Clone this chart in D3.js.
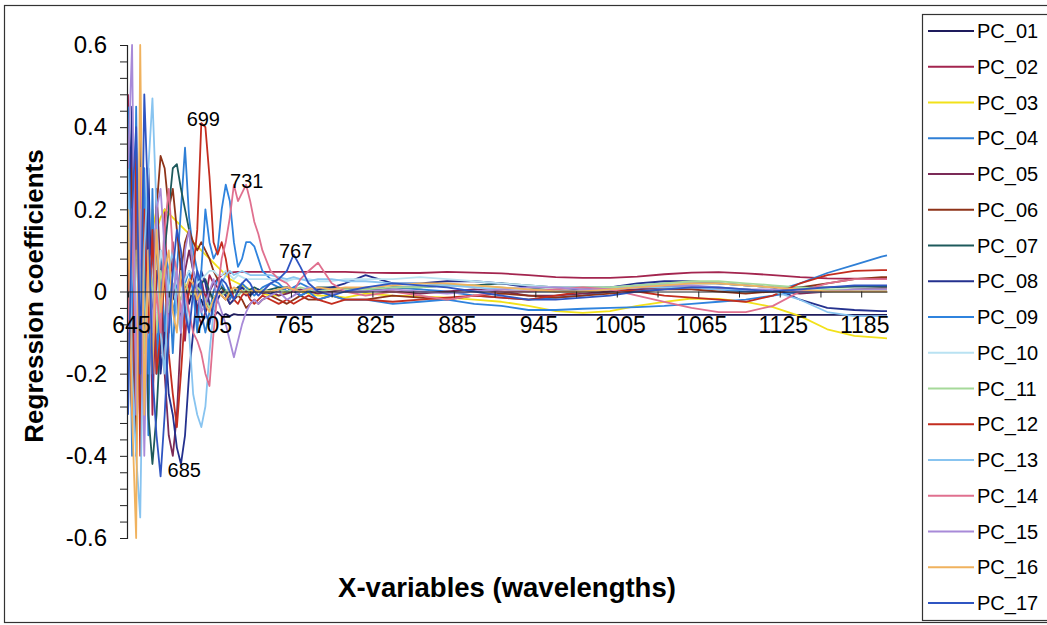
<!DOCTYPE html>
<html>
<head>
<meta charset="utf-8">
<script src="https://cdn.jsdelivr.net/npm/d3@7"></script>
<style>
  html, body { margin: 0; padding: 0; background: #fff; }
  svg { display: block; }
</style>
</head>
<body>
<svg id="chart" width="1047" height="625"></svg>
<script>
// wavelengths (nm) where the curves were read; dense in the noisy part
const wavelengths = [
  645,648,651,654,657,660,663,666,669,672,675,678,681,684,687,690,693,696,699,702,
  705,708,711,714,717,720,723,726,729,732,735,738,741,744,
  750,756,762,767,772,778,785,795,805,
  820,840,860,880,900,920,940,960,980,1000,1020,1040,1060,1080,1100,1120,1140,1160,1180,1200,1204
];

const seriesNames = ["PC_01","PC_02","PC_03","PC_04","PC_05","PC_06","PC_07","PC_08","PC_09",
  "PC_10","PC_11","PC_12","PC_13","PC_14","PC_15","PC_16","PC_17"];

const pc01 = [0.05,-0.30,0.20,-0.10,0.15,-0.25,0.10,-0.05,0.08,-0.12, 0.05,-0.02,0.04,-0.08,0.02,-0.03,0.01,-0.04,-0.02,-0.05,
  -0.03,-0.06,-0.05,-0.06,-0.055,-0.06,-0.055,-0.057,-0.057,-0.057, -0.057,-0.057,-0.057,-0.057,
  -0.057,-0.057,-0.057,-0.057,-0.057,-0.057,-0.057,-0.057,-0.057,
  -0.057,-0.057,-0.057,-0.057,-0.057,-0.057,-0.057,-0.057,-0.057,-0.057,-0.057,-0.057,-0.057,-0.057,-0.057,-0.057,-0.057,-0.057,-0.057,-0.057,-0.057];
const pc02 = [0.48,-0.20,0.30,-0.35,0.10,0.25,-0.30,0.05,-0.15,0.20, -0.10,0.12,-0.05,0.08,-0.12,0.02,0.05,-0.06,0.03,-0.02,
  0.04,0.02,0.03,0.04,0.045,0.045,0.047,0.048,0.048,0.048, 0.048,0.048,0.048,0.048,
  0.048,0.048,0.048,0.048,0.048,0.048,0.048,0.048,0.048,
  0.046,0.045,0.045,0.048,0.046,0.044,0.040,0.035,0.033,0.033,0.036,0.042,0.046,0.047,0.044,0.040,0.035,0.032,0.031,0.031,0.031];
const pc03 = [0.20,-0.30,0.25,-0.20,0.10,-0.10,0.20,0.15,0.18,0.20, 0.19,0.18,0.17,0.16,0.15,0.14,0.12,0.11,0.10,0.09,
  0.08,0.07,0.06,0.05,0.04,0.03,0.025,0.02,0.015,0.01, 0.005,0.0,0.0,-0.005,
  -0.01,-0.01,0.0,0.005,0.0,-0.005,-0.01,-0.01,-0.015,
  -0.005,-0.01,-0.012,-0.015,-0.02,-0.025,-0.035,-0.048,-0.052,-0.048,-0.035,-0.025,-0.017,-0.018,-0.025,-0.038,-0.06,-0.092,-0.108,-0.113,-0.114];
const pc04 = [0.30,-0.40,0.45,-0.30,0.20,-0.35,0.25,-0.20,0.10,-0.10, 0.05,-0.15,0.05,0.20,0.35,0.18,0.10,0.05,-0.05,-0.10,
  -0.05,0.0,0.03,0.02,0.0,-0.02,0.0,0.01,0.02,0.01, 0.0,-0.01,0.0,0.01,
  0.02,0.01,0.0,0.01,0.02,0.01,0.0,0.01,0.0,
  0.0,0.01,0.005,0.0,-0.01,-0.015,-0.02,-0.015,-0.01,0.0,0.005,0.01,0.01,0.005,0.0,0.0,0.02,0.045,0.065,0.085,0.088];
const pc05 = [-0.20,0.40,-0.35,0.20,-0.30,0.15,-0.20,0.25,0.05,-0.20, -0.35,-0.40,-0.30,-0.10,0.05,0.10,0.05,-0.05,-0.08,-0.05,
  0.0,0.02,0.01,-0.01,-0.02,-0.01,0.0,0.01,0.0,-0.01, 0.0,0.005,0.0,-0.005,
  0.0,-0.01,-0.005,0.0,0.005,0.0,-0.005,0.0,0.005,
  0.005,0.0,-0.005,0.0,0.005,0.0,-0.01,-0.01,-0.005,0.0,0.005,0.01,0.01,0.008,0.005,0.0,-0.005,0.0,0.005,0.008,0.008];
const pc06 = [-0.10,0.30,-0.40,0.35,-0.20,0.10,-0.10,0.20,0.33,0.30, 0.20,0.25,0.15,0.05,0.12,0.15,0.12,0.10,0.12,0.10,
  0.08,0.05,0.03,0.01,-0.01,-0.03,-0.02,-0.01,-0.02,-0.04, -0.03,-0.02,-0.03,-0.02,
  -0.01,-0.02,-0.03,-0.02,-0.01,-0.02,-0.02,-0.01,-0.02,
  -0.02,-0.01,-0.015,-0.02,-0.01,-0.005,-0.01,-0.015,-0.01,-0.005,0.0,0.005,0.005,0.0,-0.005,0.0,0.01,0.02,0.03,0.035,0.035];
const pc07 = [0.20,-0.25,0.30,-0.20,0.10,-0.30,-0.42,-0.30,-0.10,0.10, 0.20,0.30,0.31,0.25,0.20,0.15,0.05,-0.02,0.02,0.03,
  0.0,-0.02,0.0,0.01,0.0,-0.01,0.0,0.01,0.01,0.0, 0.005,0.01,0.005,0.0,
  0.005,0.01,0.01,0.005,0.0,0.005,0.01,0.01,0.005,
  0.005,0.01,0.01,0.015,0.015,0.02,0.015,0.01,0.01,0.01,0.015,0.02,0.02,0.02,0.015,0.01,0.01,0.01,0.012,0.012,0.012];
const pc08 = [0.10,0.45,-0.30,0.40,-0.20,0.30,-0.10,0.15,-0.20,-0.10, -0.25,-0.30,-0.38,-0.42,-0.35,-0.20,-0.10,0.0,0.05,0.02,
  -0.03,-0.05,-0.02,0.0,-0.01,-0.03,-0.02,0.0,0.01,0.0, -0.01,0.0,0.005,0.0,
  -0.005,0.0,0.01,0.0,-0.01,0.0,0.005,0.01,0.02,
  0.04,0.02,0.02,0.025,0.025,0.02,0.01,0.0,0.005,0.01,0.02,0.025,0.025,0.02,0.015,0.01,-0.02,-0.04,-0.045,-0.048,-0.048];
const pc09 = [0.45,-0.10,0.30,-0.35,0.30,-0.20,0.10,-0.20,0.0,0.10, 0.05,-0.05,0.0,0.05,0.02,0.05,0.0,-0.10,0.05,0.20,
  0.12,0.08,0.10,0.20,0.26,0.22,0.12,0.06,0.08,0.12, 0.12,0.11,0.08,0.05,
  0.03,0.02,0.0,0.01,-0.01,0.0,-0.02,-0.01,-0.02,
  -0.02,-0.03,-0.025,-0.02,-0.03,-0.035,-0.045,-0.045,-0.042,-0.04,-0.038,-0.035,-0.03,-0.025,-0.02,-0.01,0.0,0.0,0.0,0.0,0.0];
const pc10 = [-0.30,0.20,-0.10,0.30,-0.20,0.10,0.05,-0.05,0.10,0.05, 0.0,0.05,0.02,0.0,0.03,0.05,0.04,0.02,0.03,0.04,
  0.05,0.05,0.04,0.04,0.05,0.04,0.03,0.04,0.035,0.03, 0.03,0.03,0.03,0.03,
  0.03,0.03,0.025,0.03,0.03,0.03,0.025,0.025,0.03,
  0.03,0.03,0.035,0.03,0.025,0.02,0.015,0.01,0.01,0.01,0.015,0.02,0.02,0.02,0.015,0.01,0.005,0.0,0.0,0.0,0.0];
const pc11 = [0.20,-0.20,0.10,0.05,-0.15,0.10,0.0,-0.10,0.05,0.0, -0.05,0.02,0.0,-0.02,0.02,0.0,-0.01,0.01,0.0,-0.02,
  -0.04,-0.02,0.0,-0.01,0.0,0.01,0.0,-0.01,0.0,0.005, 0.0,0.005,0.0,0.005,
  0.0,0.005,0.0,0.005,0.01,0.005,0.0,0.005,0.005,
  0.005,0.01,0.01,0.015,0.015,0.01,0.005,0.005,0.01,0.01,0.015,0.02,0.025,0.025,0.02,0.015,0.01,0.005,0.005,0.005,0.005];
const pc12 = [0.10,-0.30,0.35,-0.40,0.20,-0.10,0.15,-0.20,-0.10,0.05, -0.15,-0.25,-0.33,-0.20,-0.05,0.0,0.05,0.15,0.41,0.40,
  0.28,0.12,0.09,0.12,0.08,0.02,-0.02,-0.03,-0.01,0.0, -0.02,-0.03,-0.02,-0.01,
  -0.02,-0.03,-0.02,-0.03,-0.02,-0.01,-0.02,-0.03,-0.02,
  -0.02,-0.025,-0.02,-0.015,-0.01,-0.015,-0.02,-0.01,0.0,0.005,0.0,-0.01,-0.015,-0.02,-0.025,-0.01,0.02,0.04,0.05,0.052,0.052];
const pc13 = [0.30,-0.20,-0.40,-0.55,0.10,0.30,0.47,0.20,-0.10,-0.20, 0.05,0.10,-0.05,-0.10,0.0,-0.10,-0.25,-0.30,-0.33,-0.28,
  -0.15,-0.05,0.0,0.02,0.04,0.05,0.04,0.045,0.05,0.045, 0.04,0.04,0.04,0.04,
  0.04,0.035,0.03,0.035,0.03,0.025,0.03,0.03,0.025,
  0.025,0.02,0.02,0.015,0.01,0.005,0.0,0.0,0.0,0.005,0.01,0.01,0.01,0.005,0.005,0.0,-0.02,-0.05,-0.06,-0.06,-0.06];
const pc14 = [-0.10,0.20,-0.20,0.30,-0.30,0.10,-0.15,0.0,-0.10,0.15, 0.25,0.10,0.05,-0.05,0.0,-0.05,-0.10,-0.12,-0.15,-0.20,
  -0.23,-0.10,0.0,0.08,0.12,0.18,0.26,0.22,0.24,0.26, 0.22,0.17,0.14,0.10,
  0.05,0.03,0.02,0.0,0.03,0.05,0.07,0.02,0.0,
  -0.01,0.0,-0.01,-0.02,-0.01,0.0,0.0,0.005,0.01,0.005,-0.01,-0.025,-0.04,-0.05,-0.05,-0.035,0.0,0.02,0.03,0.03,0.03];
const pc15 = [0.30,0.60,-0.30,0.20,-0.40,0.10,-0.10,0.20,0.25,0.10, -0.10,0.0,0.05,-0.10,0.10,0.15,0.05,0.0,-0.05,-0.03,
  0.0,0.03,-0.02,-0.05,-0.08,-0.12,-0.16,-0.12,-0.08,-0.05, -0.03,-0.02,-0.03,-0.02,
  -0.01,0.0,-0.02,-0.01,0.0,0.01,0.0,-0.005,0.0,
  0.0,0.005,0.0,-0.005,0.0,0.005,0.01,0.01,0.005,0.005,0.01,0.015,0.015,0.01,0.005,0.005,0.0,0.0,0.005,0.005,0.005];
const pc16 = [0.20,-0.30,-0.60,0.60,-0.30,0.10,-0.20,0.15,-0.05,0.05, 0.10,-0.05,-0.10,0.05,0.0,0.03,0.02,-0.02,0.0,-0.03,
  -0.05,-0.02,0.0,-0.01,-0.02,0.0,0.01,0.005,0.0,-0.005, 0.0,0.005,0.0,0.0,
  0.0,0.005,0.01,0.005,0.0,0.005,0.01,0.005,0.01,
  0.01,0.015,0.02,0.02,0.015,0.01,0.005,0.0,0.0,0.005,0.01,0.015,0.02,0.02,0.015,0.01,0.005,0.0,0.0,0.0,0.0];
const pc17 = [-0.30,0.20,0.40,-0.20,0.48,0.20,-0.20,-0.35,-0.45,-0.30, -0.10,0.05,0.15,0.10,-0.05,-0.10,0.0,0.05,0.02,-0.05,
  -0.08,-0.03,0.0,0.03,0.02,0.0,-0.02,0.0,0.02,0.03, 0.02,0.0,-0.01,0.0,
  0.02,0.03,0.05,0.09,0.06,0.02,0.0,-0.01,0.0,
  0.01,0.02,0.015,0.01,0.0,-0.01,-0.02,-0.02,-0.015,-0.01,0.0,0.005,0.01,0.01,0.005,0.0,0.005,0.01,0.015,0.015,0.015];

const seriesValues = [pc01,pc02,pc03,pc04,pc05,pc06,pc07,pc08,pc09,pc10,pc11,pc12,pc13,pc14,pc15,pc16,pc17];

const colors = ["#1e1b5c","#a3254f","#f2e11a","#2f7fd6","#7b2a57","#8e3318","#1e5a5c","#24318e","#2f83de",
  "#b9e2f2","#a6d99a","#c32d1f","#88c4f0","#e0708f","#a88ad8","#f0b25e","#2f55c2"];

// point labels written on the chart
const noteText = ["699","731","767","685"];
const noteWl = [699, 731, 767, 685];
const noteVal = [0.41, 0.26, 0.09, -0.42];

const xTicks = d3.range(645, 1186, 30);
const yTicks = d3.range(-15, 16).map(i => i * 0.04);

const font = "Arial, 'Liberation Sans', sans-serif";
const svg = d3.select("#chart");

// outer chart frame
svg.append("rect")
    .attr("x", 4.5).attr("y", 5.5)
    .attr("width", 1050).attr("height", 617)
    .attr("fill", "#fff").attr("stroke", "#333").attr("stroke-width", 1.2);

const x = d3.scaleLinear().domain([645, 1204]).range([128, 887]);
const y = d3.scaleLinear().domain([-0.6, 0.6]).range([538, 45]);

// lines
const line = d3.line()
    .x((d, i) => x(wavelengths[i]))
    .y(d => y(d));

svg.append("g")
    .attr("fill", "none")
    .attr("stroke-width", 1.8)
    .attr("stroke-linejoin", "round")
    .selectAll("path")
    .data(seriesValues)
    .join("path")
    .attr("stroke", (d, i) => colors[i])
    .attr("d", d => line(d));

// y axis
const yAxis = svg.append("g")
    .attr("transform", "translate(127,0)")
    .call(d3.axisLeft(y)
        .tickValues(yTicks)
        .tickSize(7)
        .tickPadding(13)
        .tickFormat((d, i) => (i % 5 === 0 ? (Math.abs(d) < 1e-9 ? "0" : d.toFixed(1)) : "")));
yAxis.select(".domain").attr("stroke", "#222").attr("stroke-width", 1.2);
yAxis.selectAll(".tick line").attr("stroke", "#222");
yAxis.selectAll("text")
    .attr("font-family", font).attr("font-size", 24).attr("fill", "#000");

// x axis along the zero line
const xAxis = svg.append("g")
    .attr("transform", `translate(0,${y(0)})`)
    .call(d3.axisBottom(x)
        .tickValues(xTicks)
        .tickSize(6)
        .tickSizeOuter(0)
        .tickFormat(d => ((d - 645) % 60 === 0 ? d : "")));
xAxis.select(".domain").attr("stroke", "#222").attr("stroke-width", 1.2);
xAxis.selectAll(".tick line").attr("stroke", "#222");
xAxis.selectAll("text")
    .attr("font-family", font).attr("font-size", 23).attr("fill", "#000")
    .attr("x", 3).attr("y", 25);

// point labels
svg.append("g")
    .selectAll("text")
    .data(noteText)
    .join("text")
    .attr("font-family", font).attr("font-size", 20)
    .attr("text-anchor", "middle").attr("fill", "#000")
    .attr("x", (d, i) => x(noteWl[i]) + 2)
    .attr("y", (d, i) => y(noteVal[i]) + (noteVal[i] < 0 ? 13 : 3))
    .text(d => d);

// axis titles
svg.append("text")
    .attr("font-family", font).attr("font-size", 27.5).attr("font-weight", "bold")
    .attr("fill", "#000")
    .attr("text-anchor", "middle")
    .attr("x", 507).attr("y", 597)
    .text("X-variables (wavelengths)");

svg.append("text")
    .attr("font-family", font).attr("font-size", 26).attr("font-weight", "bold")
    .attr("fill", "#000")
    .attr("text-anchor", "middle")
    .attr("transform", "translate(43,296) rotate(-90)")
    .text("Regression coefficients");

// legend
const legend = svg.append("g");
legend.append("rect")
    .attr("x", 922.5).attr("y", 14.5)
    .attr("width", 130).attr("height", 606)
    .attr("fill", "#fff").attr("stroke", "#333").attr("stroke-width", 1.2);

const item = legend.selectAll("g.item")
    .data(seriesNames)
    .join("g")
    .attr("class", "item")
    .attr("transform", (d, i) => `translate(0,${31 + i * 35.75})`);
item.append("line")
    .attr("x1", 928).attr("x2", 974)
    .attr("stroke", (d, i) => colors[i]).attr("stroke-width", 2);
item.append("text")
    .attr("x", 977).attr("dy", "0.35em")
    .attr("font-family", font).attr("font-size", 20).attr("fill", "#000")
    .text(d => d);
</script>
</body>
</html>
